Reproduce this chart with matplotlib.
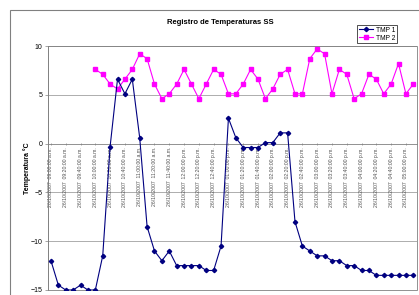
import matplotlib
matplotlib.use("Agg")
import matplotlib.pyplot as plt
import pandas as pd
from matplotlib.patches import Rectangle

plt.rcParams['font.family'] = ['Liberation Sans', 'DejaVu Sans']

# categorias: cada 10 minutos desde las 09:00 a.m.
horas = pd.date_range("2007-10-26 09:00", periods=50, freq="10min")
categorias = [h.strftime("%d/%m/%Y  %I:%M:%S") + (" a.m." if h.hour < 12 else " p.m.") for h in horas]

tmp1 = [-12.0, -14.5, -15.0, -15.0, -14.5, -15.0, -15.0, -11.5, -0.3, 6.6,
        5.1, 6.6, 0.6, -8.5, -11.0, -12.0, -11.0, -12.5, -12.5, -12.5,
        -12.5, -13.0, -13.0, -10.5, 2.6, 0.6, -0.4, -0.4, -0.4, 0.1,
        0.1, 1.1, 1.1, -8.0, -10.5, -11.0, -11.5, -11.5, -12.0, -12.0,
        -12.5, -12.5, -13.0, -13.0, -13.5, -13.5, -13.5, -13.5, -13.5, -13.5]
# TMP 2 empieza a las 10:00 a.m.
tmp2_inicio = 6
tmp2 = [7.6, 7.1, 6.1, 5.6, 6.6, 7.6, 9.2, 8.7, 6.1, 4.6,
        5.1, 6.1, 7.6, 6.1, 4.6, 6.1, 7.6, 7.1, 5.1, 5.1,
        6.1, 7.6, 6.6, 4.6, 5.6, 7.1, 7.6, 5.1, 5.1, 8.7,
        9.7, 9.2, 5.1, 7.6, 7.1, 4.6, 5.1, 7.1, 6.6, 5.1,
        6.1, 8.2, 5.1, 6.1]

W, H = 419, 295
fig = plt.figure(figsize=(W / 100, H / 100), dpi=100)

# borde del grafico
fig.patches.append(Rectangle((10 / W, -0.1), 1.2, 1 - 10 / H + 0.1, transform=fig.transFigure,
                             fill=False, edgecolor='#808080', lw=0.8))

ax = fig.add_axes([48 / W, 1 - 290 / H, (417 - 48) / W, (290 - 46) / H])
x = list(range(len(tmp1)))
x2 = list(range(tmp2_inicio, tmp2_inicio + len(tmp2)))

ax.set_xlim(-0.4, 49.5)
ax.set_ylim(-15, 10)
ax.set_yticks([10, 5, 0, -5, -10, -15])
for v in [10, 5, -5, -10]:
    ax.axhline(v, color='#a0a0a0', lw=0.6, zorder=0)

ax.plot(x, tmp1, color='#000080', marker='D', ms=2.2, lw=0.8, label='TMP 1', zorder=3)
ax.plot(x2, tmp2, color='#ff00ff', marker='s', ms=2.8, lw=0.8, label='TMP 2', zorder=2)

for s in ['top', 'right']:
    ax.spines[s].set_visible(False)
ax.spines['bottom'].set_position(('data', 0))
ax.spines['bottom'].set_color('#808080')
ax.spines['bottom'].set_linewidth(0.6)
ax.spines['left'].set_color('#808080')
ax.spines['left'].set_linewidth(0.6)
ax.add_patch(Rectangle((0, 0), 1, 1, transform=ax.transAxes, fill=False,
                       edgecolor='#808080', lw=0.6, clip_on=False))

ax.set_xticks(x[::2])
ax.set_xticklabels(categorias[::2], rotation=90, fontsize=3.7, color='#505050')
ax.tick_params(axis='x', length=2, width=0.5, color='#808080', pad=1.5, direction='inout')
ax.tick_params(axis='y', length=2, width=0.5, color='#808080', labelsize=5, pad=2)

ax.set_ylabel('Temperatura °C', fontsize=5, fontweight='bold', labelpad=0)
fig.text(220 / W, 1 - 23 / H, 'Registro de Temperaturas SS', ha='center', va='center',
         fontsize=5.5, fontweight='bold')

leg = fig.legend(loc='upper left', bbox_to_anchor=(357 / W, 1 - 25 / H), fontsize=4.8,
                 frameon=True, fancybox=False, borderpad=0.25, handlelength=2.2,
                 handletextpad=0.4, labelspacing=0.15, borderaxespad=0)
leg.get_frame().set_edgecolor('black')
leg.get_frame().set_linewidth(0.6)

fig.savefig('out.png', dpi=100)
